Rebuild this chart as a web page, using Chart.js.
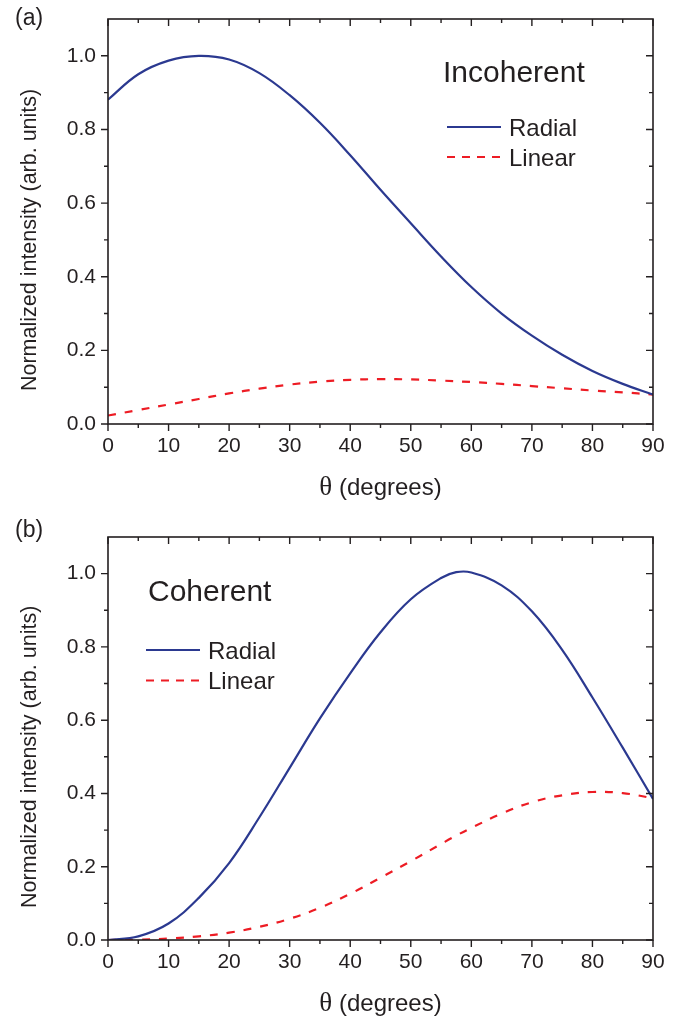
<!DOCTYPE html>
<html><head><meta charset="utf-8">
<script src="https://cdn.jsdelivr.net/npm/chart.js@4.4.1/dist/chart.umd.min.js"></script>
<style>
html,body{margin:0;padding:0;background:#fff;}
#wrap{position:relative;width:679px;height:1023px;overflow:hidden;background:#fff;}
canvas{position:absolute;left:0;}
</style></head><body>
<div id="wrap">
<canvas id="ca" width="679" height="510" style="top:0px"></canvas>
<canvas id="cb" width="679" height="513" style="top:510px"></canvas>
</div>
<script>
// ---- data ----
const thetaInc = [0,5,10,15,20,25,30,35,40,45,50,55,60,65,70,75,80,85,90];
const incRadial = [0.881,0.950,0.987,1.000,0.990,0.953,0.893,0.818,0.730,0.636,0.545,0.455,0.372,0.300,0.240,0.188,0.144,0.109,0.080];
const incLinear = [0.023,0.038,0.053,0.068,0.083,0.096,0.107,0.115,0.120,0.122,0.121,0.118,0.114,0.109,0.103,0.097,0.091,0.086,0.080];

const thetaCoh = [0,5,10,15,20,25,30,35,40,45,50,55,57.5,60,65,70,75,80,85,90];
const cohRadial = [0.000,0.010,0.045,0.115,0.210,0.335,0.470,0.605,0.728,0.840,0.930,0.988,1.004,1.003,0.968,0.897,0.792,0.662,0.525,0.385];
const cohLinear = [0.000,0.001,0.004,0.010,0.020,0.036,0.058,0.088,0.126,0.170,0.215,0.262,0.285,0.306,0.345,0.376,0.395,0.404,0.401,0.387];

const xTickLabels = [0,10,20,30,40,50,60,70,80,90];
const xMinorTicks = [5,15,25,35,45,55,65,75,85];
const yTickLabels = [0.0,0.2,0.4,0.6,0.8,1.0];
const yMinorTicks = [0.1,0.3,0.5,0.7,0.9];
const seriesNames = ['Radial','Linear'];
const panelLabels = ['(a)','(b)'];
const panelTitles = ['Incoherent','Coherent'];
const yTitle = 'Normalized intensity (arb. units)';
const xTitleSym = '\u03B8';
const xTitleRest = ' (degrees)';

// ---- style ----
const INK = '#231f20';
const BLUE = '#2b3990';
const RED = '#ed1c24';
const FONT = '"Liberation Sans", Arial, Helvetica, sans-serif';
const SERIF = '"Liberation Serif", "DejaVu Serif", serif';

function deco(opt){
  return {
    id:'deco',
    afterDraw(chart){
      const ctx = chart.ctx, a = chart.chartArea, xs = chart.scales.x, ys = chart.scales.y;
      ctx.save();
      // frame
      ctx.strokeStyle = INK; ctx.lineWidth = 1.6;
      ctx.strokeRect(a.left, a.top, a.right - a.left, a.bottom - a.top);
      // ticks
      ctx.lineWidth = 1.4;
      ctx.beginPath();
      const xt = (v, len) => { const p = xs.getPixelForValue(v);
        ctx.moveTo(p, a.bottom); ctx.lineTo(p, a.bottom + len);
        ctx.moveTo(p, a.top); ctx.lineTo(p, a.top + len); };
      const yt = (v, len) => { const p = ys.getPixelForValue(v);
        ctx.moveTo(a.left, p); ctx.lineTo(a.left - len, p);
        ctx.moveTo(a.right, p); ctx.lineTo(a.right - len, p); };
      xTickLabels.forEach(v => xt(v, 7)); xMinorTicks.forEach(v => xt(v, 4));
      yTickLabels.forEach(v => yt(v, 7)); yMinorTicks.forEach(v => yt(v, 4));
      ctx.stroke();

      ctx.fillStyle = INK;
      ctx.textBaseline = 'alphabetic';
      // panel label
      ctx.font = '23px ' + FONT; ctx.textAlign = 'left';
      ctx.fillText(opt.panel, 15, opt.panelBase);
      // panel title
      ctx.font = '30px ' + FONT;
      ctx.fillText(opt.title, opt.titleX, opt.titleBase);
      // legend
      ctx.font = '24px ' + FONT;
      const L = opt.leg;
      ctx.lineWidth = 2;
      ctx.strokeStyle = BLUE; ctx.setLineDash([]);
      ctx.beginPath(); ctx.moveTo(L.x0, L.y1); ctx.lineTo(L.x1, L.y1); ctx.stroke();
      ctx.strokeStyle = RED; ctx.setLineDash([8,7]);
      ctx.beginPath(); ctx.moveTo(L.x0, L.y2); ctx.lineTo(L.x1, L.y2); ctx.stroke();
      ctx.setLineDash([]);
      ctx.fillText(seriesNames[0], L.tx, L.y1 + 8.6);
      ctx.fillText(seriesNames[1], L.tx, L.y2 + 8.6);
      // y title (centred on 0..1.0 range)
      const yc = (ys.getPixelForValue(0) + ys.getPixelForValue(1.0)) / 2;
      ctx.save();
      ctx.translate(36, yc); ctx.rotate(-Math.PI/2);
      ctx.font = '21.5px ' + FONT; ctx.textAlign = 'center';
      ctx.fillText(yTitle, 0, 0);
      ctx.restore();
      // x title with symbol theta
      const xc = (a.left + a.right) / 2;
      const base = a.bottom + 71;
      ctx.font = '27px ' + SERIF;
      const w1 = ctx.measureText(xTitleSym).width;
      ctx.font = '24px ' + FONT;
      const w2 = ctx.measureText(xTitleRest).width;
      let x0 = xc - (w1 + w2) / 2;
      ctx.textAlign = 'left';
      ctx.font = '27px ' + SERIF;
      ctx.fillText(xTitleSym, x0, base);
      ctx.font = '24px ' + FONT;
      ctx.fillText(xTitleRest, x0 + w1, base);
      ctx.restore();
    }
  };
}

function makeChart(id, H, topPad, thetaArr, radial, linear, d){
  const plotBottom = d.plotBottom;
  return new Chart(document.getElementById(id), {
    type: 'scatter',
    data: { datasets: [
      { label: seriesNames[0], data: thetaArr.map((t,i)=>({x:t, y:radial[i]})), showLine:true,
        borderColor: BLUE, borderWidth: 2.2, pointRadius: 0, tension: 0.4, fill:false },
      { label: seriesNames[1], data: thetaArr.map((t,i)=>({x:t, y:linear[i]})), showLine:true,
        borderColor: RED, borderWidth: 2.2, borderDash:[8,9], pointRadius: 0, tension: 0.4, fill:false }
    ]},
    options: {
      responsive:false, animation:false, events:[],
      layout:{ padding:{ left:0, right:26, top:topPad, bottom:0 } },
      plugins:{ legend:{display:false}, tooltip:{enabled:false}, title:{display:false} },
      scales:{
        x:{ type:'linear', min:0, max:90, grid:{display:false, drawTicks:false, tickLength:0}, border:{display:false},
            afterBuildTicks: s => { s.ticks = xTickLabels.map(v=>({value:v})); },
            afterFit: s => { s.height = H - plotBottom; s.paddingLeft = 0; s.paddingRight = 0; },
            ticks:{ font:{family:FONT, size:21}, color:INK, padding:10, maxRotation:0, autoSkip:false } },
        y:{ type:'linear', min:0, max:1.1, grid:{display:false, drawTicks:false, tickLength:0}, border:{display:false},
            afterBuildTicks: s => { s.ticks = yTickLabels.map(v=>({value:v})); },
            afterFit: s => { s.width = 108; s.paddingTop = 0; s.paddingBottom = 0; },
            ticks:{ font:{family:FONT, size:21}, color:INK, padding:12, autoSkip:false,
                    callback: v => Number(v).toFixed(1) } }
      }
    },
    plugins:[ deco(d) ]
  });
}

makeChart('ca', 510, 19, thetaInc, incRadial, incLinear, {
  plotBottom:424, panel:panelLabels[0], panelBase:25.2,
  title:panelTitles[0], titleX:443, titleBase:82,
  leg:{x0:447, x1:501, tx:509, y1:127, y2:157}
});
makeChart('cb', 513, 27, thetaCoh, cohRadial, cohLinear, {
  plotBottom:430, panel:panelLabels[1], panelBase:27.2,
  title:panelTitles[1], titleX:148, titleBase:90.7,
  leg:{x0:146, x1:200, tx:208, y1:140, y2:170.5}
});
</script>
</body></html>
